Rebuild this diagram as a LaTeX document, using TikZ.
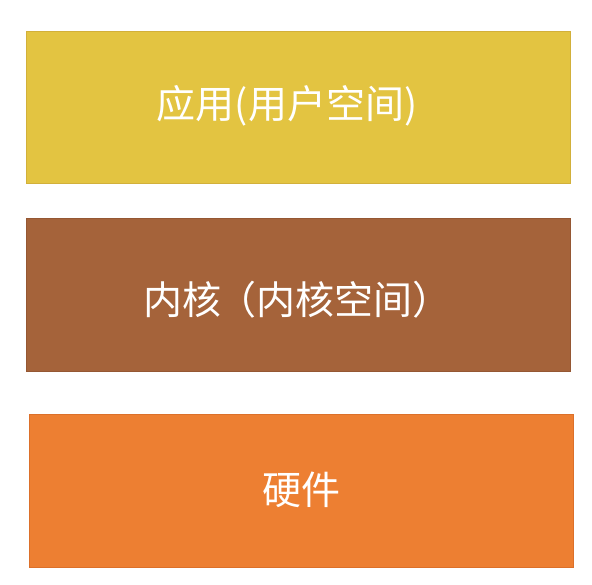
\documentclass[tikz,border=0pt]{standalone}
\usepackage{fontspec}
\newfontfamily\cjk{Noto Sans CJK SC}
\definecolor{yel}{HTML}{E3C441}
\definecolor{yelb}{HTML}{D2B03A}
\definecolor{brn}{HTML}{A5633A}
\definecolor{brnb}{HTML}{955733}
\definecolor{org}{HTML}{ED7F32}
\definecolor{orgb}{HTML}{DC702A}
\tikzset{
  layer/.style={line width=1pt},
  lbl/.style={text=white, font=\cjk\fontsize{39}{42}\selectfont, inner sep=0pt}
}
\begin{document}
\begin{tikzpicture}[x=1pt,y=-1pt]
\useasboundingbox (0,0) rectangle (592,584);
\fill[white] (0,0) rectangle (592,584);
\draw[layer, fill=yel, draw=yelb] (26,31) rectangle (570,183);
\draw[layer, fill=brn, draw=brnb] (26,218) rectangle (570,371);
\draw[layer, fill=org, draw=orgb] (29,414) rectangle (573,567);
\node[lbl] (app) at (287,106) {应用(用户空间)};
\node[lbl] (kern) at (294,300) {内核\kern-0.1em（内核空间）\kern-0.2em};
\node[lbl] (hw) at (301,490) {硬件};
\end{tikzpicture}
\end{document}
